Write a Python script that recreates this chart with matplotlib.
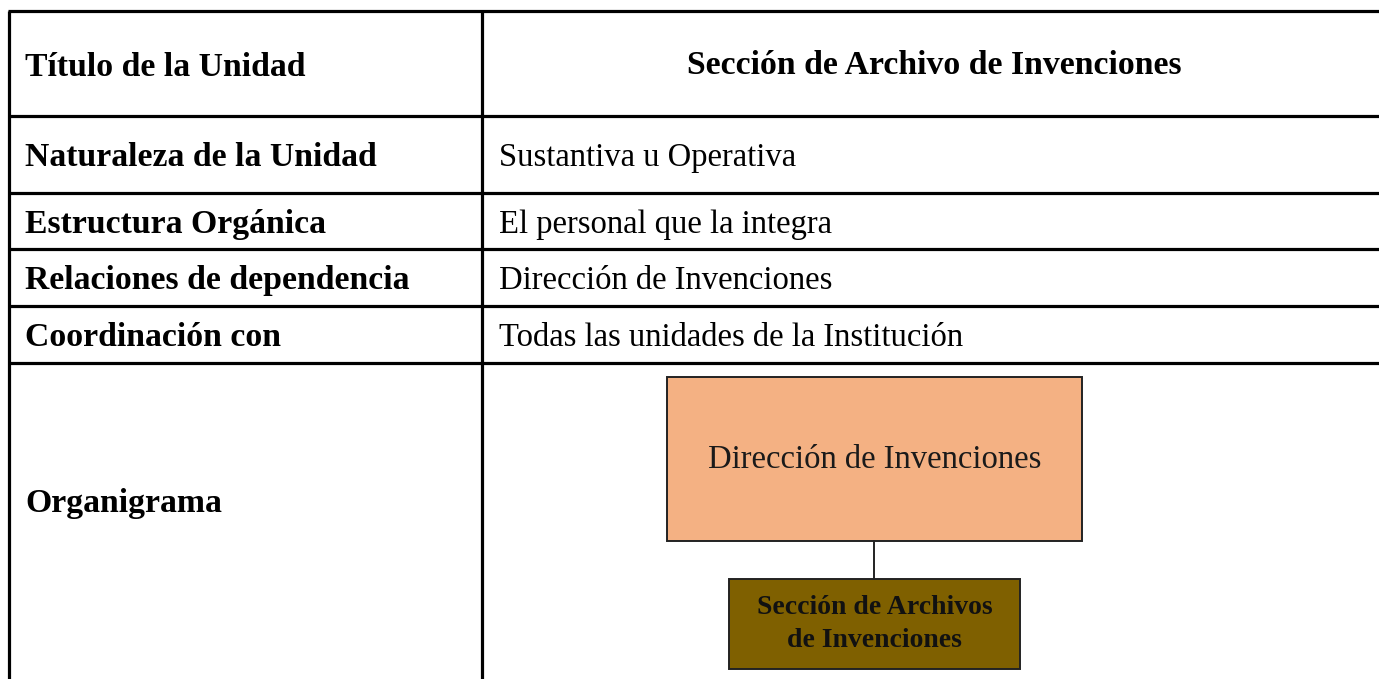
import matplotlib.pyplot as plt
from matplotlib.patches import Rectangle

# table content
labels = ['Título de la Unidad', 'Naturaleza de la Unidad', 'Estructura Orgánica',
          'Relaciones de dependencia', 'Coordinación con', 'Organigrama']
values = ['Sección de Archivo de Invenciones', 'Sustantiva u Operativa',
          'El personal que la integra', 'Dirección de Invenciones',
          'Todas las unidades de la Institución', '']
# org chart nodes
parent_node = 'Dirección de Invenciones'
child_node = 'Sección de Archivos\nde Invenciones'

# layout (pixels)
W, H = 1379, 679
row_edges = [11, 116, 192.5, 249, 305.5, 362.5, 679]
x_left, x_mid, x_right = 9, 482, 1379
font = 'Liberation Serif'

fig = plt.figure(figsize=(W / 100, H / 100), dpi=100)
ax = fig.add_axes([0, 0, 1, 1])
ax.set_xlim(0, W)
ax.set_ylim(H, 0)
ax.axis('off')

# grid lines
ax.hlines(row_edges[:-1], x_left - 1.5, x_right, color='black', lw=2.3)
ax.vlines([x_left, x_mid], row_edges[0], row_edges[-1], color='black', lw=2.3)

for i, (lab, val) in enumerate(zip(labels, values)):
    yc = (row_edges[i] + row_edges[i + 1]) / 2
    if i == len(labels) - 1:
        yc = 500
    ax.text(25, yc, lab, fontsize=24.3, fontweight='bold', family=font,
            ha='left', va='center_baseline')
    if i == 0:
        ax.text((x_mid + x_right) / 2 + 4, yc - 1, val, fontsize=24.3, fontweight='bold',
                family=font, ha='center', va='center_baseline')
    elif val:
        ax.text(499, yc, val, fontsize=23.5, family=font,
                ha='left', va='center_baseline')

# org chart
ax.add_patch(Rectangle((667, 377), 415, 164, facecolor='#F4B183',
                       edgecolor='#222222', lw=1.4))
ax.text(874.5, 460, parent_node, fontsize=23.5, family=font, color='#1a1a1a',
        ha='center', va='center')
ax.plot([874, 874], [541, 579], color='#222222', lw=1.4)
ax.add_patch(Rectangle((729, 579), 291, 90, facecolor='#7F6000',
                       edgecolor='#222222', lw=1.4))
ax.text(874.5, 624, child_node, fontsize=20, fontweight='bold', family=font,
        color='#111111', ha='center', va='center', linespacing=1.45)

fig.savefig('out.png', dpi=100)
